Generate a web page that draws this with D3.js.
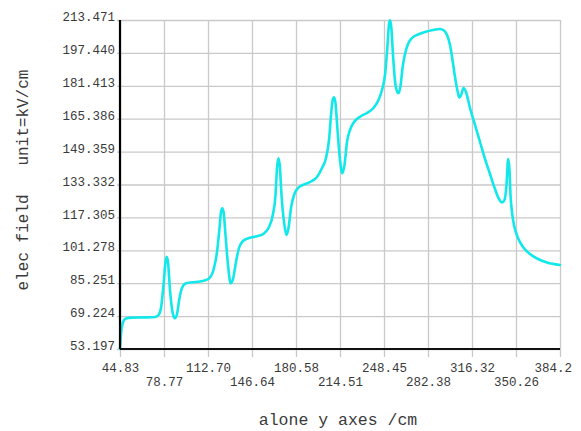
<!DOCTYPE html>
<html>
<head>
<meta charset="utf-8">
<script src="https://cdn.jsdelivr.net/npm/d3@7"></script>
<style>
  html, body { margin: 0; padding: 0; background: #ffffff; }
  svg { display: block; }
  .tick text { font-family: "Liberation Mono", "Courier New", monospace; }
</style>
</head>
<body>
<svg id="chart" width="581" height="431"></svg>
<script>
// Electric field along the y axis (kV/cm)
const positionCm = [
  44.83, 45.37, 46.14, 47.53, 49.46, 54.09, 64.11, 71.83, 74.52, 76.45,
  78.38, 79.92, 80.85, 81.85, 83.39, 85.32, 87.10, 88.79, 90.72, 92.65,
  95.73, 100.36, 106.53, 111.16, 114.25, 117.33, 119.65, 121.57, 122.73, 123.73,
  124.81, 126.20, 128.13, 130.21, 131.99, 134.30, 136.61, 139.70, 144.33, 150.50,
  155.90, 159.75, 162.84, 164.77, 165.93, 166.93, 168.01, 169.40, 171.33, 173.25,
  174.80, 176.73, 179.04, 182.13, 186.76, 192.15, 196.78, 200.64, 203.72, 206.04,
  207.58, 208.89, 209.89, 211.04, 212.59, 214.52, 216.29, 217.99, 219.92, 222.23,
  225.32, 229.95, 235.35, 239.97, 243.83, 246.91, 249.23, 251.16, 252.31, 253.08,
  254.01, 255.40, 257.33, 259.49, 261.18, 262.72, 264.65, 266.97, 270.05, 274.68,
  280.08, 286.25, 291.65, 294.73, 297.05, 299.36, 301.29, 303.22, 305.15, 306.53,
  308.23, 309.77, 311.70, 314.79, 318.64, 322.50, 326.36, 330.21, 334.07, 337.15,
  339.47, 341.40, 342.94, 344.25, 345.25, 346.02, 347.18, 348.72, 351.81, 355.66,
  361.06, 367.23, 374.17, 384.20
];
const fieldKVcm = [
  53.20, 58.55, 63.43, 66.84, 68.06, 68.49, 68.59, 68.79, 69.76, 73.17,
  84.37, 95.58, 98.16, 95.58, 81.94, 71.22, 68.15, 70.25, 78.04, 82.91,
  85.20, 85.69, 86.08, 86.81, 88.03, 92.66, 100.45, 112.14, 119.93, 121.74,
  119.45, 108.73, 94.12, 85.20, 87.30, 95.58, 102.40, 105.81, 107.27, 108.10,
  109.50, 112.63, 118.96, 128.22, 141.37, 146.10, 142.83, 128.22, 115.07, 108.73,
  112.14, 121.89, 128.22, 131.63, 133.34, 134.80, 136.99, 141.37, 146.24, 155.01,
  167.19, 174.50, 175.81, 173.00, 159.89, 145.27, 138.80, 142.84, 154.04, 159.89,
  163.79, 166.37, 168.17, 170.36, 174.00, 179.37, 186.67, 201.29, 211.52, 213.30,
  210.35, 196.42, 181.81, 177.76, 181.31, 190.08, 196.90, 201.78, 204.70, 206.40,
  207.62, 208.60, 209.09, 208.36, 206.17, 201.30, 193.99, 185.71, 178.89, 175.72,
  177.43, 180.35, 178.40, 170.61, 162.33, 154.04, 145.76, 138.45, 131.14, 126.27,
  124.57, 125.79, 133.09, 145.76, 140.40, 128.22, 119.93, 113.60, 107.27, 102.88,
  99.47, 97.04, 95.34, 94.12
];

const xTickLabels = ["44.83", "78.77", "112.70", "146.64", "180.58", "214.51",
                     "248.45", "282.38", "316.32", "350.26", "384.2"];
const yTickLabels = ["53.197", "69.224", "85.251", "101.278", "117.305", "133.332",
                     "149.359", "165.386", "181.413", "197.440", "213.471"];

const xTitle = "alone y axes /cm";
const yTitle = "elec field   unit=kV/cm";

const W = 581, H = 431;
const margin = { top: 20, right: 21, bottom: 82, left: 120 };
const iw = W - margin.left - margin.right;
const ih = H - margin.top - margin.bottom;

const svg = d3.select("#chart");
const g = svg.append("g").attr("transform", `translate(${margin.left},${margin.top})`);

const x = d3.scaleLinear().domain([+xTickLabels[0], +xTickLabels[xTickLabels.length - 1]]).range([0, iw]);
const y = d3.scaleLinear().domain([+yTickLabels[0], +yTickLabels[yTickLabels.length - 1]]).range([ih, 0]);

const gridColor = "#c9c9c9";
const textColor = "#3a3a3a";
const monoFont = "'Liberation Mono', 'Courier New', monospace";

// vertical grid lines, running a little below the bottom axis
const xGrid = g.append("g")
  .attr("transform", `translate(0,${ih + 8})`)
  .call(d3.axisBottom(x).tickValues(xTickLabels.map(Number)).tickSize(ih + 8).tickFormat(""));
xGrid.select(".domain").remove();
xGrid.selectAll(".tick line").attr("stroke", gridColor).attr("stroke-width", 1.3)
  .attr("y1", 0).attr("y2", -(ih + 8));

// horizontal grid lines
const yGrid = g.append("g")
  .attr("transform", `translate(${iw},0)`)
  .call(d3.axisLeft(y).tickValues(yTickLabels.map(Number)).tickSize(iw + 3).tickFormat(""));
yGrid.select(".domain").remove();
yGrid.selectAll(".tick line").attr("stroke", gridColor).attr("stroke-width", 1.3);

// y tick labels
const yAxis = g.append("g")
  .call(d3.axisLeft(y).tickValues(yTickLabels.map(Number)).tickSize(0).tickPadding(5)
    .tickFormat((d, i) => yTickLabels[i]));
yAxis.select(".domain").remove();
yAxis.selectAll(".tick text")
  .attr("font-family", monoFont).attr("font-size", 12.5).attr("fill", textColor)
  .attr("dy", "0.05em");

// x tick labels, staggered on two rows
const xAxis = g.append("g")
  .attr("transform", `translate(0,${ih})`)
  .call(d3.axisBottom(x).tickValues(xTickLabels.map(Number)).tickSize(0)
    .tickFormat((d, i) => xTickLabels[i]));
xAxis.select(".domain").remove();
xAxis.selectAll(".tick text")
  .attr("font-family", monoFont).attr("font-size", 12.5).attr("fill", textColor)
  .attr("dy", null)
  .attr("y", (d, i) => (i % 2 === 0 ? 23 : 37))
  .each(function () {
    // keep labels inside the page on the right
    const bb = this.getBBox();
    const tr = this.parentNode.transform.baseVal.consolidate();
    const tx = tr ? tr.matrix.e : 0;
    const right = margin.left + tx + bb.x + bb.width;
    if (right > W - 9) d3.select(this).attr("x", (W - 9) - right);
  });

// the curve
const line = d3.line()
  .x((d, i) => x(positionCm[i]))
  .y((d, i) => y(fieldKVcm[i]))
  .curve(d3.curveMonotoneX);

g.append("path")
  .datum(fieldKVcm)
  .attr("d", line)
  .attr("fill", "none")
  .attr("stroke", "#12e8ea")
  .attr("stroke-width", 2.6)
  .attr("stroke-linejoin", "round")
  .attr("stroke-linecap", "round");

// axis lines
g.append("line").attr("x1", 0).attr("x2", 0).attr("y1", 0).attr("y2", ih)
  .attr("stroke", "#000").attr("stroke-width", 2.2);
g.append("line").attr("x1", 0).attr("x2", iw).attr("y1", ih).attr("y2", ih)
  .attr("stroke", "#111").attr("stroke-width", 2);

// axis titles
svg.append("text")
  .attr("x", margin.left + iw / 2 - 2).attr("y", 425)
  .attr("text-anchor", "middle")
  .attr("font-family", monoFont).attr("font-size", 16.5).attr("fill", textColor)
  .text(xTitle);

svg.append("text")
  .attr("transform", "translate(28,180) rotate(-90)")
  .attr("text-anchor", "middle")
  .attr("font-family", monoFont).attr("font-size", 16).attr("fill", textColor)
  .style("white-space", "pre")
  .text(yTitle);
</script>
</body>
</html>
